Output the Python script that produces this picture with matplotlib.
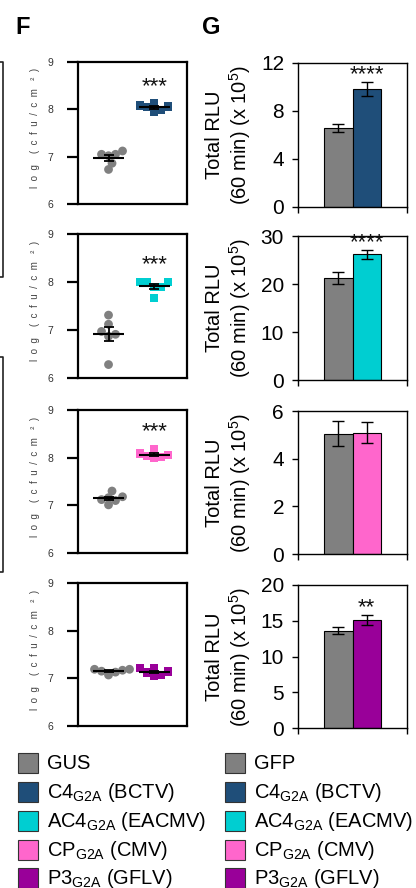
import numpy as np
import matplotlib
matplotlib.use("Agg")
import matplotlib.pyplot as plt
from matplotlib.patches import Rectangle
from matplotlib.lines import Line2D

plt.rcParams['font.family'] = ['Liberation Sans', 'DejaVu Sans']
plt.rcParams['mathtext.fontset'] = 'custom'
plt.rcParams['mathtext.rm'] = 'Liberation Sans'
plt.rcParams['mathtext.it'] = 'Liberation Sans:italic'
plt.rcParams['mathtext.bf'] = 'Liberation Sans:bold'

# ---------------- data ----------------
gray = '#808080'
eff_colors = ['#1F4E79', '#00CED1', '#FF66CC', '#990099']

# Panel F: log(cfu/cm2), GUS vs effector
f_gus = [[7.12, 7.05, 7.02, 7.05, 6.86, 6.73],
         [7.31, 7.12, 6.91, 6.87, 6.97, 6.28],
         [7.30, 7.18, 7.12, 7.16, 7.01, 7.10],
         [7.19, 7.15, 7.07, 7.17, 7.19, 7.13]]
f_eff = [[8.05, 8.08, 8.12, 7.95, 7.98, 8.06],
         [8.00, 7.90, 7.99, 7.90, 8.00, 7.67],
         [8.09, 8.18, 7.99, 8.01, 8.04, 8.05],
         [7.21, 7.21, 7.07, 7.05, 7.12, 7.14]]
f_stars = ['***', '***', '***', '']
f_yticks = [6, 7, 8, 9]

# Panel G: Total RLU (60 min) (x 10^5), GFP vs effector
g_gfp = [6.6, 21.2, 5.05, 13.6]
g_gfp_err = [0.35, 1.3, 0.53, 0.5]
g_eff = [9.85, 26.2, 5.09, 15.1]
g_eff_err = [0.58, 0.9, 0.45, 0.7]
g_ymax = [12, 30, 6, 20]
g_yticks = [[0, 4, 8, 12], [0, 10, 20, 30], [0, 2, 4, 6], [0, 5, 10, 15, 20]]
g_stars = ['****', '****', '', '**']

legend_left = ['GUS', r'C4$_{\mathrm{G2A}}$ (BCTV)', r'AC4$_{\mathrm{G2A}}$ (EACMV)',
               r'CP$_{\mathrm{G2A}}$ (CMV)', r'P3$_{\mathrm{G2A}}$ (GFLV)']
legend_right = ['GFP', r'C4$_{\mathrm{G2A}}$ (BCTV)', r'AC4$_{\mathrm{G2A}}$ (EACMV)',
                r'CP$_{\mathrm{G2A}}$ (CMV)', r'P3$_{\mathrm{G2A}}$ (GFLV)']
legend_colors = [gray] + eff_colors

# ---------------- layout ----------------
W, H = 416, 888
fig = plt.figure(figsize=(W / 100, H / 100), dpi=100)


def rect(l, t, r, b):
    return [l / W, 1 - b / H, (r - l) / W, (b - t) / H]


f_rows = [(62, 204), (234, 378), (410, 553), (583, 726)]
g_rows = [(63, 207), (236, 380), (411, 554), (585, 728)]


def swarm(vals, center, ypx, xpx, d):
    vals = np.asarray(vals, float)
    placed = []
    xs = np.empty(len(vals))
    for i in np.argsort(vals):
        y = vals[i] * ypx
        best = None
        k = 0
        while best is None:
            for sgn in ([0] if k == 0 else [1, -1]):
                off = sgn * k * d * 0.5
                if all((off - po) ** 2 + (y - py) ** 2 >= d * d for po, py in placed):
                    best = off
                    break
            k += 1
        placed.append((best, y))
        xs[i] = center + best / xpx
    return xs


for i in range(4):
    t, b = f_rows[i]
    ax = fig.add_axes(rect(78, t, 187, b))
    ax.set_xlim(0, 1)
    ax.set_ylim(6, 9)
    ypx = (b - t) / 3.0
    for vals, cen, col, mk, s in [(f_gus[i], 0.28, gray, 'o', 40),
                                  (f_eff[i], 0.70, eff_colors[i], 's', 36)]:
        xs = swarm(vals, cen, ypx, 109, 7.0)
        ax.scatter(xs, vals, s=s, marker=mk, color=col, edgecolors='none', zorder=2)
        m = np.mean(vals)
        sem = np.std(vals, ddof=1) / np.sqrt(len(vals))
        ax.hlines(m, cen - 0.14, cen + 0.14, color='black', lw=1.5, zorder=3)
        ax.errorbar(cen, m, yerr=sem, color='black', lw=1.3, capsize=3.5,
                    capthick=1.3, zorder=3)
    if f_stars[i]:
        ax.text(0.70, max(f_eff[i]) + 0.36, f_stars[i], ha='center', va='center',
                fontsize=16, color='#111111')
    ax.set_yticks(f_yticks)
    ax.set_xticks([])
    ax.tick_params(axis='y', which='major', direction='out', length=8, width=1.6,
                   labelsize=7.5, labelcolor='#333333', pad=10)
    for sp in ax.spines.values():
        sp.set_linewidth(1.6)
    fig.text(35 / W, 1 - (t + b) / 2 / H + 5 / H, 'l  o  g    (  c  f  u  /  c  m   ²  )',
             rotation=90, ha='center', va='center', fontsize=7, color='#444444')

for i in range(4):
    t, b = g_rows[i]
    ax = fig.add_axes(rect(298, t, 407, b))
    ax.set_xlim(0, 1)
    ax.set_ylim(0, g_ymax[i])
    ax.bar([0.37, 0.63], [g_gfp[i], g_eff[i]], width=0.26,
           color=[gray, eff_colors[i]], edgecolor='black', linewidth=0.8, zorder=2)
    ax.errorbar([0.37, 0.63], [g_gfp[i], g_eff[i]], yerr=[g_gfp_err[i], g_eff_err[i]],
                fmt='none', ecolor='black', elinewidth=1.0, capsize=4.3, capthick=1.0,
                zorder=3)
    if g_stars[i]:
        ax.text(0.63, g_eff[i] + g_eff_err[i] + g_ymax[i] * 0.05, g_stars[i],
                ha='center', va='center', fontsize=16, color='#111111')
    ax.set_yticks(g_yticks[i])
    ax.set_xticks([0, 1])
    ax.set_xticklabels([])
    ax.tick_params(axis='y', direction='out', length=4, width=1, labelsize=15, pad=6)
    ax.tick_params(axis='x', direction='out', length=4, width=1)
    for sp in ax.spines.values():
        sp.set_linewidth(1.0)
    fig.text(229 / W, 1 - (t + b) / 2 / H, 'Total RLU\n(60 min) (x 10$^{5}$)',
             rotation=90, ha='center', va='center', fontsize=14.5, linespacing=1.15,
             multialignment='center')

# panel letters
fig.text(15 / W, 1 - 28 / H, 'F', fontsize=17, fontweight='bold', va='center', ha='left')
fig.text(202 / W, 1 - 28 / H, 'G', fontsize=17, fontweight='bold', va='center', ha='left')

# clipped frames of neighbouring panel at the left edge
for (t, b) in [(62, 277), (357, 572)]:
    fig.add_artist(Line2D([0, 3 / W, 3 / W, 0], [1 - t / H, 1 - t / H, 1 - b / H, 1 - b / H],
                          transform=fig.transFigure, color='#222222', lw=1.2))

# legends
row_y = [763, 792, 821, 850, 878]
for col_x, labels in [(18, legend_left), (225, legend_right)]:
    for y, lab, c in zip(row_y, labels, legend_colors):
        fig.add_artist(Rectangle((col_x / W, 1 - (y + 10) / H), 20 / W, 20 / H,
                                 transform=fig.transFigure, facecolor=c,
                                 edgecolor='#333333', lw=0.8))
        fig.text((col_x + 29) / W, 1 - y / H, lab, fontsize=14.5, va='center', ha='left')

fig.savefig('out.png', dpi=100)
